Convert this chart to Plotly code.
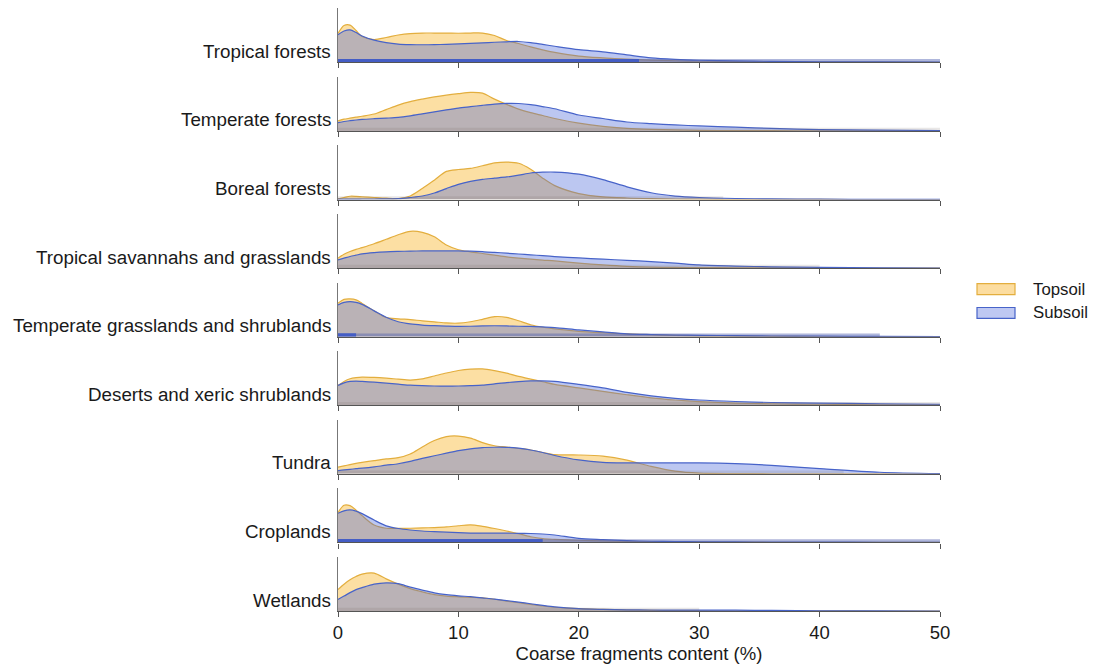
import plotly.graph_objects as go

# ---------------- data ----------------
biomes = [
    "Tropical forests",
    "Temperate forests",
    "Boreal forests",
    "Tropical savannahs and grasslands",
    "Temperate grasslands and shrublands",
    "Deserts and xeric shrublands",
    "Tundra",
    "Croplands",
    "Wetlands",
]
series_names = ["Topsoil", "Subsoil"]

# Coarse fragments content (%) at which densities were read
x_grid = [0, 0.5, 1, 1.5, 2, 3, 4, 5, 6, 7, 8, 9, 10, 11, 12, 13, 14, 15, 16, 17,
          18, 20, 22, 24, 26, 28, 30, 33, 36, 40, 45, 50]

# relative kernel densities (scaled)
topsoil_tropical_forests = [29, 37, 37.5, 32, 26, 23, 25, 27.5, 29, 29.5, 29.5, 29.5, 29.3, 29.5, 29.5, 27, 22, 19, 15.5, 12.5, 10, 6.3, 4.5, 3.2, 2.3, 1.6, 1.1, 0.7, 0.5, 0.3, 0.2, 0.1]
subsoil_tropical_forests = [27.7, 31.5, 32.7, 30, 26.5, 22.3, 19.8, 18.4, 17.9, 17.7, 17.8, 18.1, 18.5, 19, 19.6, 20.2, 20.7, 21, 19.8, 18, 16.2, 12.8, 10.5, 7.5, 4.5, 3, 2.1, 1.4, 1, 0.6, 0.4, 0.3]

topsoil_temperate_forests = [10, 11.8, 12.8, 13.8, 14.8, 17, 21.5, 26, 29.5, 32, 34.2, 36, 37.5, 38.8, 38, 32, 26.7, 22, 18.4, 15.5, 12.5, 7.8, 4.5, 2.6, 1.6, 1, 0.6, 0.3, 0.2, 0.1, 0.05, 0]
subsoil_temperate_forests = [8.4, 9.5, 10.3, 11, 11.6, 12.3, 12.9, 13.6, 15.2, 17.2, 19.2, 21.2, 23, 24.4, 25.8, 27, 27.7, 27.6, 26.5, 24.5, 22.3, 16, 12.5, 9, 7.3, 6, 5, 3.8, 2.6, 1.4, 0.8, 0.4]

topsoil_boreal_forests = [0.7, 2, 3.3, 3.2, 2.8, 2, 1.3, 1, 3.5, 11, 19.5, 28.3, 30.2, 31.3, 34, 36.8, 37.7, 36.5, 30.5, 21.5, 14, 6, 2.7, 1.5, 0.9, 0.5, 0.3, 0.15, 0.1, 0.05, 0, 0]
subsoil_boreal_forests = [0.3, 0.3, 0.4, 0.4, 0.5, 0.5, 0.6, 0.8, 2, 3.5, 6.5, 11, 15.3, 18.3, 20.3, 21.5, 22.7, 24.5, 26.7, 27.5, 27.6, 25.5, 20, 12.8, 6.8, 3.5, 2, 1, 0.6, 0.3, 0.1, 0.05]

topsoil_tropical_savannahs = [10, 14, 16.7, 18.8, 20.6, 24.5, 29, 33.6, 37, 36, 31.5, 23.3, 18.5, 16.4, 14.7, 13, 11.3, 10, 9, 8, 7.2, 5, 3.2, 1.8, 1, 0.7, 0.5, 0.3, 0.2, 0.1, 0, 0]
subsoil_tropical_savannahs = [8.3, 10, 11.7, 13, 14.3, 15.6, 16.4, 16.8, 17.1, 17.3, 17.3, 17.3, 17.3, 17, 16.5, 15.9, 15, 14.2, 13.3, 12.5, 11.6, 10.2, 9, 7.8, 6.5, 5, 3.2, 2, 1.3, 0.7, 0.3, 0.1]

topsoil_temperate_grasslands = [33.7, 37.5, 38, 37, 33.5, 26, 19.3, 18, 17.2, 16, 15, 13.8, 13.6, 15, 17.5, 20.2, 19.5, 16, 12, 9.5, 7.8, 5.4, 4, 2.9, 2, 1.3, 0.9, 0.6, 0.4, 0.2, 0.1, 0.05]
subsoil_temperate_grasslands = [32, 34.5, 35.3, 34.5, 32.5, 26, 19.5, 15, 12.8, 11.7, 11.1, 10.7, 10.4, 10.5, 10.8, 11, 10.8, 10.5, 10.3, 9.8, 9.2, 6.8, 4.8, 2.9, 2.2, 1.7, 1.4, 1, 0.7, 0.5, 0.3, 0.2]

topsoil_deserts = [20, 24, 26.7, 27.8, 28.3, 28, 27.3, 26.3, 25.4, 26.5, 29.5, 32.5, 35, 36.4, 36.6, 34.8, 32.3, 29, 26.3, 23.7, 21, 17.5, 14, 10.6, 7.5, 5.3, 3.7, 2.2, 1.5, 1, 0.5, 0.3]
subsoil_deserts = [20, 22.5, 24, 24.3, 24, 23.2, 22.2, 21.2, 20.2, 19.7, 19.4, 19.3, 19.4, 19.7, 20.2, 21.5, 22.8, 23.8, 24.5, 24.5, 24, 21, 17.5, 13, 9.5, 7, 5.3, 3.8, 2.8, 2.2, 1.5, 1]

topsoil_tundra = [6.7, 8, 9.3, 10.5, 11.5, 13.3, 15, 16.3, 20, 27, 33.5, 37.5, 38, 36, 31.5, 28.3, 27, 25.5, 24, 21.5, 19.3, 19, 17.8, 13.8, 7.5, 2.8, 0.8, 0.3, 0.1, 0.05, 0, 0]
subsoil_tundra = [3.3, 4, 4.6, 5.2, 5.7, 7, 8.7, 10.2, 12.5, 15.5, 18.2, 20.8, 23.4, 25.2, 26.5, 26.8, 26.7, 25.8, 24, 21.5, 18.5, 14, 11.5, 11, 11, 11, 11, 10.3, 8.6, 5.3, 1.6, 0.3]

topsoil_croplands = [30, 37.5, 37, 32.5, 27, 17.5, 14.3, 14.2, 14.3, 14.6, 15, 15.6, 16.8, 17.7, 16.2, 14, 11.5, 8.8, 5.7, 3.8, 3.1, 2.2, 1.6, 1.1, 0.8, 0.6, 0.5, 0.3, 0.2, 0.1, 0.05, 0]
subsoil_croplands = [29.3, 31.8, 32.7, 31.5, 29, 22.5, 16.7, 14, 12.5, 11.5, 10.8, 10.3, 9.8, 9.4, 9.3, 9.3, 9.3, 9.2, 9, 8.5, 7.5, 4, 2.8, 1.8, 1.2, 0.9, 0.7, 0.5, 0.4, 0.3, 0.2, 0.1]

topsoil_wetlands = [21.7, 27, 31.5, 34.8, 37.2, 38.2, 32.3, 27, 22.5, 19.2, 16.5, 15, 14.3, 13.8, 13.3, 11.8, 10, 8.3, 6.7, 5, 3.8, 2.3, 1.6, 1, 0.6, 0.4, 0.3, 0.2, 0.1, 0.05, 0, 0]
subsoil_wetlands = [11.7, 15, 18.5, 21.5, 23.5, 27, 28.3, 27.5, 24, 21, 18.3, 16.5, 15.3, 14.4, 13.2, 12, 10.5, 9, 7.3, 5.6, 4.1, 2.3, 1.6, 1.2, 1, 0.9, 0.9, 0.8, 0.6, 0.2, 0.05, 0]

topsoil = [topsoil_tropical_forests, topsoil_temperate_forests, topsoil_boreal_forests,
           topsoil_tropical_savannahs, topsoil_temperate_grasslands, topsoil_deserts,
           topsoil_tundra, topsoil_croplands, topsoil_wetlands]
subsoil = [subsoil_tropical_forests, subsoil_temperate_forests, subsoil_boreal_forests,
           subsoil_tropical_savannahs, subsoil_temperate_grasslands, subsoil_deserts,
           subsoil_tundra, subsoil_croplands, subsoil_wetlands]

# extent of the rug of observations (%), and extent of the dense blue part
rug_extent = [50, 50, 32, 40, 45, 50, 42, 50, 30]
rug_dense_extent = [25, 0, 0, 0, 1.5, 0, 0, 17, 0]

x_ticks = [0, 10, 20, 30, 40, 50]
x_title = "Coarse fragments content (%)"

# ---------------- styling ----------------
W, H = 1104, 668
M_L, M_R, M_T, M_B = 338, 164, 8, 53
PLOT_W = W - M_L - M_R
PLOT_H = H - M_T - M_B
FIRST_BASE = 62.7
STEP = 69.04
PANEL_H = 54.4
YMAX = PANEL_H

TOP_FILL = "rgba(248,185,50,0.45)"
TOP_LINE = "#E3AE3E"
SUB_FILL = "rgba(70,100,215,0.36)"
SUB_LINE = "#4763C9"
FONT = "Liberation Sans, Arial, sans-serif"
TXT = "#1a1a1a"


def px_to_paper_x(px):
    return (px - M_L) / PLOT_W


def px_to_paper_y(py):
    return (H - M_B - py) / PLOT_H


fig = go.Figure()
layout = {}
annotations = []
shapes = []
n = len(biomes)
for i, name in enumerate(biomes):
    k = i + 1
    xa = "x" if k == 1 else f"x{k}"
    ya = "y" if k == 1 else f"y{k}"
    base_px = FIRST_BASE + STEP * i
    d0 = max(0.0, px_to_paper_y(base_px))
    d1 = min(1.0, d0 + PANEL_H / PLOT_H)

    fig.add_trace(go.Scatter(
        x=x_grid, y=topsoil[i], xaxis=xa, yaxis=ya, mode="lines",
        line=dict(color=TOP_LINE, width=1.2, shape="spline", smoothing=0.8),
        fill="tozeroy", fillcolor=TOP_FILL, name=series_names[0],
        showlegend=False, hoverinfo="skip"))
    fig.add_trace(go.Scatter(
        x=x_grid, y=subsoil[i], xaxis=xa, yaxis=ya, mode="lines",
        line=dict(color=SUB_LINE, width=1.2, shape="spline", smoothing=0.8),
        fill="tozeroy", fillcolor=SUB_FILL, name=series_names[1],
        showlegend=False, hoverinfo="skip"))
    # rug of observations
    fig.add_trace(go.Scatter(
        x=[0, rug_extent[i]], y=[1.7, 1.7], xaxis=xa, yaxis=ya, mode="lines",
        line=dict(color="rgba(120,105,100,0.16)", width=3.2),
        showlegend=False, hoverinfo="skip"))
    if rug_dense_extent[i] > 0:
        fig.add_trace(go.Scatter(
            x=[0, rug_extent[i]], y=[1.7, 1.7], xaxis=xa, yaxis=ya, mode="lines",
            line=dict(color="rgba(70,95,200,0.35)", width=3.2),
            showlegend=False, hoverinfo="skip"))
        fig.add_trace(go.Scatter(
            x=[0, rug_dense_extent[i]], y=[1.7, 1.7], xaxis=xa, yaxis=ya, mode="lines",
            line=dict(color="rgba(55,85,200,0.85)", width=3.5),
            showlegend=False, hoverinfo="skip"))

    last = (i == n - 1)
    layout["xaxis" if k == 1 else f"xaxis{k}"] = dict(
        domain=[0, 1], anchor=ya, range=[0, 50], tickvals=x_ticks,
        showline=True, linecolor="#555555", linewidth=1.2,
        ticks="outside", ticklen=5, tickcolor="#555555", tickwidth=1.2,
        showticklabels=last, showgrid=False, zeroline=False,
        tickfont=dict(family=FONT, size=18.5, color=TXT),
        title=dict(text=x_title if last else "",
                   font=dict(family=FONT, size=18.5, color=TXT),
                   standoff=4),
    )
    layout["yaxis" if k == 1 else f"yaxis{k}"] = dict(
        domain=[d0, d1], anchor=xa, range=[0, YMAX],
        showline=True, linecolor="#777777", linewidth=1,
        showticklabels=False, ticks="", showgrid=False, zeroline=False,
    )
    annotations.append(dict(
        text=name, xref=f"{xa} domain", x=0, xshift=-5, xanchor="right",
        yref=ya, y=11, yanchor="middle", showarrow=False,
        font=dict(family=FONT, size=18.8, color=TXT)))

# legend (drawn as boxes + text to match the boxed swatches)
legend_fill = ["rgb(252,221,160)", "rgb(190,200,242)"]
legend_line = [TOP_LINE, SUB_LINE]
legend_text_y = [291, 315]
for j, nm in enumerate(series_names):
    cy = legend_text_y[j]
    shapes.append(dict(
        type="rect", xref="paper", yref="paper",
        x0=px_to_paper_x(977), x1=px_to_paper_x(1015),
        y0=px_to_paper_y(cy - 5.5), y1=px_to_paper_y(cy + 5.5),
        fillcolor=legend_fill[j], line=dict(color=legend_line[j], width=1.2)))
    annotations.append(dict(
        text=nm, xref="paper", yref="paper",
        x=px_to_paper_x(1031), y=px_to_paper_y(cy),
        xanchor="left", yanchor="middle", showarrow=False,
        font=dict(family=FONT, size=16.8, color=TXT)))

fig.update_layout(
    width=W, height=H,
    margin=dict(l=M_L, r=M_R, t=M_T, b=M_B),
    paper_bgcolor="white", plot_bgcolor="white",
    annotations=annotations, shapes=shapes,
    showlegend=False,
    **layout,
)

fig.write_html("out.html")
